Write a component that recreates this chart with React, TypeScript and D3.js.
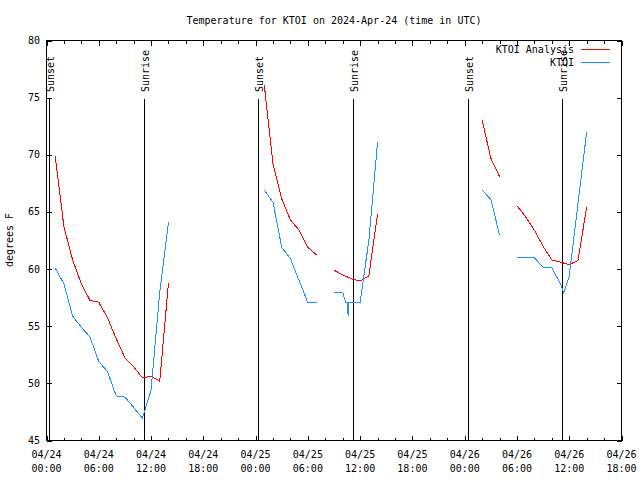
import React from 'react';
import * as d3 from 'd3';

const TITLE = 'Temperature for KTOI on 2024-Apr-24 (time in UTC)';
const Y_LABEL = 'degrees F';
const SERIES_NAMES = ['KTOI Analysis', 'KTOI'];
const SERIES_COLORS = ['#ff0000', '#1e90ff'];

// hours since 2024-04-24 00:00 UTC
const analysisHours = [1, 2, 3, 4, 5, 6, 7, 8, 9, 10, 11, 12, 13, 14,
  25, 26, 27, 28, 29, 30, 31,
  33, 34, 35, 36, 37, 38,
  50, 51, 52,
  54, 55, 56, 57, 58, 59, 60, 61, 62];
const analysisTemps = [69.85, 63.7, 60.8, 58.7, 57.25, 57.1, 55.75, 53.9, 52.25, 51.45, 50.5, 50.6, 50.2, 58.8,
  76.1, 69.2, 66.15, 64.3, 63.4, 61.9, 61.25,
  59.9, 59.5, 59.15, 58.95, 59.4, 64.85,
  73.05, 69.7, 68.1,
  65.55, 64.55, 63.4, 62.0, 60.8, 60.6, 60.4, 60.75, 65.4];

const obsHours = [1, 2, 3, 4, 5, 6, 7, 8, 9, 10, 11, 12, 13, 14,
  25, 26, 27, 28, 29, 30, 31,
  33, 34, 34.35, 34.52, 34.62, 34.7, 35, 36, 37, 38,
  50, 51, 52,
  54, 55, 56, 57, 58, 59, 59.35, 60, 61, 62];
const obsTemps = [60.1, 58.7, 55.9, 54.9, 54.05, 51.9, 51.05, 48.9, 48.8, 47.9, 46.95, 49.4, 58.0, 64.1,
  66.9, 65.85, 61.9, 60.9, 59.0, 57.05, 57.05,
  57.95, 57.95, 57.1, 57.1, 55.9, 57.1, 57.1, 57.1, 62.5, 71.1,
  66.9, 66.1, 63.0,
  61.0, 61.0, 61.0, 60.15, 60.1, 58.7, 57.9, 59.4, 65.7, 72.0];

const sunEventHours = [0.25, 11.17, 24.27, 35.16, 48.36, 59.15];
const sunEventLabels = ['Sunset', 'Sunrise', 'Sunset', 'Sunrise', 'Sunset', 'Sunrise'];

const yTicks = [45, 50, 55, 60, 65, 70, 75, 80];
const xMajorHours = [0, 6, 12, 18, 24, 30, 36, 42, 48, 54, 60, 66];
const START = Date.UTC(2024, 3, 24, 0, 0, 0);

const W = 640;
const H = 480;
const X0 = 46.5, X1 = 621.5, Y0 = 40.5, Y1 = 440.5;
const FONT = '"DejaVu Sans Mono", "Liberation Mono", monospace';

function segments(hours: number[], temps: number[]) {
  const segs: [number, number][][] = [];
  let cur: [number, number][] = [];
  hours.forEach((h, i) => {
    if (cur.length && h - cur[cur.length - 1][0] > 1.5) {
      segs.push(cur);
      cur = [];
    }
    cur.push([h, temps[i]]);
  });
  if (cur.length) segs.push(cur);
  return segs;
}

export default function App() {
  const x = d3.scaleLinear().domain([0, 66]).range([X0, X1]);
  const y = d3.scaleLinear().domain([45, 80]).range([Y1, Y0]);
  const line = d3.line<[number, number]>().x(d => x(d[0])).y(d => y(d[1]));
  const fmtDate = d3.utcFormat('%m/%d');
  const fmtTime = d3.utcFormat('%H:%M');
  const minorHours = d3.range(0, 67, 2).filter(h => h % 6 !== 0);

  const series = [
    { name: SERIES_NAMES[0], color: SERIES_COLORS[0], segs: segments(analysisHours, analysisTemps) },
    { name: SERIES_NAMES[1], color: SERIES_COLORS[1], segs: segments(obsHours, obsTemps) },
  ];

  return (
    <svg width={W} height={H} style={{ position: 'absolute', left: 0, top: 0, background: '#fff' }}
      fontFamily={FONT} fontSize={10}>
      <rect x={0} y={0} width={W} height={H} fill="#fff" />
      <text x={(X0 + X1) / 2} y={20} textAnchor="middle" dominantBaseline="central">{TITLE}</text>

      {/* y ticks */}
      {yTicks.map(t => (
        <g key={'y' + t}>
          <line x1={X0} x2={X0 + 5} y1={Math.round(y(t)) + 0.5} y2={Math.round(y(t)) + 0.5} stroke="#000" shapeRendering="crispEdges" />
          <line x1={X1 - 5} x2={X1} y1={Math.round(y(t)) + 0.5} y2={Math.round(y(t)) + 0.5} stroke="#000" shapeRendering="crispEdges" />
          <text x={40} y={y(t)} textAnchor="end" dominantBaseline="central">{t}</text>
        </g>
      ))}

      {/* x ticks */}
      {xMajorHours.map(h => {
        const d = new Date(START + h * 3600000);
        const px = Math.round(x(h)) + 0.5;
        return (
          <g key={'x' + h}>
            <line x1={px} x2={px} y1={Y1} y2={Y1 - 5} stroke="#000" shapeRendering="crispEdges" />
            <line x1={px} x2={px} y1={Y0} y2={Y0 + 5} stroke="#000" shapeRendering="crispEdges" />
            <text x={x(h)} y={454} textAnchor="middle" dominantBaseline="central">{fmtDate(d)}</text>
            <text x={x(h)} y={468} textAnchor="middle" dominantBaseline="central">{fmtTime(d)}</text>
          </g>
        );
      })}
      {minorHours.map(h => {
        const px = Math.round(x(h)) + 0.5;
        return (
          <g key={'m' + h}>
            <line x1={px} x2={px} y1={Y1} y2={Y1 - 3} stroke="#000" shapeRendering="crispEdges" />
            <line x1={px} x2={px} y1={Y0} y2={Y0 + 3} stroke="#000" shapeRendering="crispEdges" />
          </g>
        );
      })}

      {/* sunrise / sunset */}
      {sunEventHours.map((h, i) => {
        const px = Math.round(x(h)) + 0.5;
        return (
          <g key={'s' + i}>
            <line x1={px} x2={px} y1={99} y2={Y1} stroke="#000" shapeRendering="crispEdges" />
            <text transform={`translate(${px + 4},92) rotate(-90)`} textAnchor="start">{sunEventLabels[i]}</text>
          </g>
        );
      })}

      {/* data */}
      {series.map(s => s.segs.map((seg, j) => (
        <path key={s.name + j} d={line(seg) || ''} fill="none" stroke={s.color} strokeWidth={1} shapeRendering="crispEdges" />
      )))}

      {/* border */}
      <rect x={X0} y={Y0} width={X1 - X0} height={Y1 - Y0} fill="none" stroke="#000" shapeRendering="crispEdges" />

      {/* legend */}
      {series.map((s, i) => (
        <g key={'lg' + i}>
          <text x={574} y={49 + i * 13} textAnchor="end" dominantBaseline="central">{s.name}</text>
          <line x1={581} x2={610} y1={49.5 + i * 13} y2={49.5 + i * 13} stroke={s.color} shapeRendering="crispEdges" />
        </g>
      ))}

      <text transform={`translate(9,240) rotate(-90)`} textAnchor="middle" dominantBaseline="central">{Y_LABEL}</text>
    </svg>
  );
}
